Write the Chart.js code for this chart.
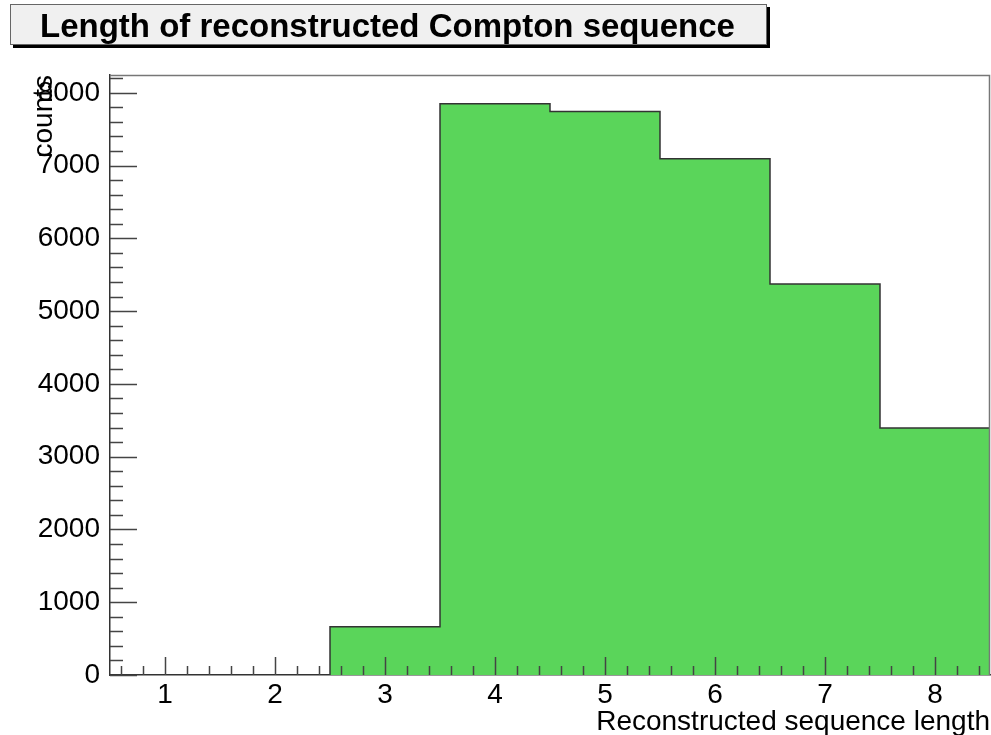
<!DOCTYPE html>
<html>
<head>
<meta charset="utf-8">
<script src="https://cdn.jsdelivr.net/npm/chart.js@4"></script>
<style>
  html, body { margin: 0; padding: 0; background: #fff; }
  #wrap { width: 991px; height: 735px; position: relative; }
</style>
</head>
<body>
<div id="wrap"><canvas id="histo"></canvas></div>
<script>
// bin centres and counts
const binCenters = [1, 2, 3, 4, 5, 6, 7, 8];
const binCounts = [0, 0, 664, 7851, 7745, 7095, 5374, 3393];
const xTicks = [1, 2, 3, 4, 5, 6, 7, 8];
const yTicks = [0, 1000, 2000, 3000, 4000, 5000, 6000, 7000, 8000];
const yMax = 8245;

const title = 'Length of reconstructed Compton sequence';
const xTitle = 'Reconstructed sequence length';
const yTitle = 'counts';

// step outline: one point per left bin edge, plus the last right edge
const steps = binCenters.map((c, i) => ({ x: c - 0.5, y: binCounts[i] }));
steps.push({ x: binCenters[binCenters.length - 1] + 0.5, y: binCounts[binCounts.length - 1] });

const FONT = '"Liberation Sans", Arial, sans-serif';

// ROOT style frame, inward ticks, titles
const rootStyle = {
  id: 'rootStyle',
  beforeDraw(chart) {
    const c = chart.ctx;
    c.save();
    c.fillStyle = '#fff';
    c.fillRect(0, 0, chart.width, chart.height);
    // title box with shadow
    c.fillStyle = '#000';
    c.fillRect(13, 7, 757, 41);
    c.fillStyle = '#f0f0f0';
    c.fillRect(10, 4, 757, 41);
    c.strokeStyle = '#666';
    c.lineWidth = 1;
    c.strokeRect(10.5, 4.5, 756, 40);
    c.fillStyle = '#000';
    c.font = 'bold 33px ' + FONT;
    c.textBaseline = 'alphabetic';
    c.textAlign = 'left';
    c.fillText(title, 40, 37);
    c.restore();
  },
  afterDatasetsDraw(chart) {
    const c = chart.ctx;
    const a = chart.chartArea;
    const xs = chart.scales.x, ys = chart.scales.y;
    c.save();
    // top and right frame
    c.strokeStyle = '#777';
    c.lineWidth = 1.5;
    c.beginPath();
    c.moveTo(a.left, a.top + 0.5);
    c.lineTo(a.right - 0.5, a.top + 0.5);
    c.lineTo(a.right - 0.5, a.bottom);
    c.stroke();
    // y ticks
    c.strokeStyle = '#444';
    c.lineWidth = 1.5;
    c.beginPath();
    for (let v = 0; v <= yMax; v += 200) {
      const py = Math.round(ys.getPixelForValue(v)) + 0.5;
      const len = v % 1000 === 0 ? 27 : 13;
      c.moveTo(a.left, py);
      c.lineTo(a.left + len, py);
    }
    // x ticks
    for (let k = 3; k <= 42; k++) {
      const v = k / 5;
      const px = Math.round(xs.getPixelForValue(v)) + 0.5;
      const len = k % 5 === 0 ? 18 : 9;
      c.moveTo(px, a.bottom);
      c.lineTo(px, a.bottom - len);
    }
    c.stroke();
    // axis titles
    c.fillStyle = '#000';
    c.font = '28px ' + FONT;
    c.textAlign = 'right';
    c.textBaseline = 'alphabetic';
    c.fillText(xTitle, a.right, 730);
    c.translate(52, a.top);
    c.rotate(-Math.PI / 2);
    c.fillText(yTitle, 0, 0);
    c.restore();
  }
};

new Chart(document.getElementById('histo'), {
  type: 'line',
  data: {
    datasets: [{
      data: steps,
      stepped: 'before',
      fill: 'origin',
      backgroundColor: '#5ad55a',
      borderColor: '#333',
      borderWidth: 1.5,
      pointRadius: 0,
      tension: 0
    }]
  },
  options: {
    responsive: true,
    maintainAspectRatio: false,
    animation: false,
    events: [],
    layout: { padding: { top: 75, right: 1, left: 0, bottom: 0 } },
    plugins: {
      legend: { display: false },
      tooltip: { enabled: false }
    },
    scales: {
      x: {
        type: 'linear',
        min: 0.5,
        max: 8.5,
        afterBuildTicks: s => { s.ticks = xTicks.map(v => ({ value: v })); },
        afterFit: s => { s.height = 60; },
        grid: { display: false, drawTicks: false },
        border: { display: true, color: '#333', width: 1.5 },
        ticks: { color: '#000', padding: 3, maxRotation: 0, font: { family: FONT, size: 28 },
          callback: v => String(v) }
      },
      y: {
        min: 0,
        max: yMax,
        afterBuildTicks: s => { s.ticks = yTicks.map(v => ({ value: v })); },
        afterFit: s => { s.width = 110; },
        grid: { display: false, drawTicks: false },
        border: { display: true, color: '#333', width: 1.5 },
        ticks: { color: '#000', padding: 10, font: { family: FONT, size: 28 },
          callback: v => String(v) }
      }
    }
  },
  plugins: [rootStyle]
});
</script>
</body>
</html>
